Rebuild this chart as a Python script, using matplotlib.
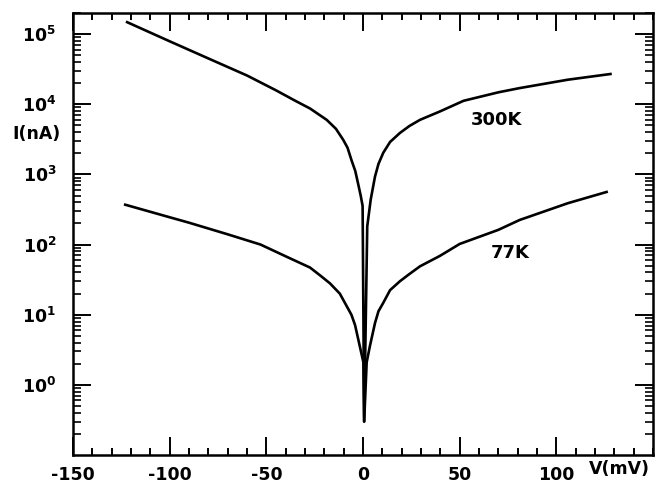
import numpy as np
import matplotlib
matplotlib.use("Agg")
import matplotlib.pyplot as plt
from matplotlib.ticker import FixedLocator, MultipleLocator, LogFormatterMathtext, NullFormatter

# I-V curves (V in mV, I in nA)
v_300 = [-122, -100, -80, -60, -45, -35, -27.4, -18.8, -14, -10.2, -8, -5.9, -4, -2.4,
         -1.2, -0.2, 0.6, 2.2, 4, 6.2, 8, 10.5, 14, 19.1, 24, 29.5, 39.8, 52, 70, 81,
         106, 128]
i_300 = [148000, 79000, 45000, 25700, 15800, 11200, 8700, 6000, 4470, 3100, 2400, 1580,
         1120, 710, 500, 355, 0.3, 182, 440, 930, 1410, 2040, 2900, 3900, 4900, 6000,
         7900, 11200, 14800, 17000, 22400, 27000]

v_77 = [-123, -100, -90, -70, -53, -40, -27.4, -22, -17.1, -12, -8.4, -6, -4.1, -1.6,
        0.2, 0.6, 1.9, 3.6, 6.2, 8, 10.5, 14, 19.1, 24, 29.5, 39.8, 50, 70, 81, 106, 126]
i_77 = [370, 245, 205, 140, 100, 68, 47, 36, 28, 20, 13.2, 10, 7.1, 3.5,
        2.1, 0.3, 2.1, 3.6, 7.6, 11.2, 14.8, 22.4, 30, 38, 49, 69, 102, 162, 224, 389, 562]

curve_labels = ["300K", "77K"]
label_pos = [(69, 6000), (76, 77)]

x_ticks = [-150, -100, -50, 0, 50, 100]
x_ticklabels = ["-150", "-100", "-50", "0", "50", "100"]
decades = [0.1, 1, 10, 100, 1000, 1e4, 1e5]

plt.rcParams['axes.unicode_minus'] = False
plt.rcParams['font.family'] = 'DejaVu Sans'

fig = plt.figure(figsize=(6.58, 4.84), dpi=100)
ax = fig.add_axes([73 / 658, 1 - 455 / 484, (653 - 73) / 658, (455 - 13) / 484])

ax.plot(v_300, i_300, color='black', lw=1.9)
ax.plot(v_77, i_77, color='black', lw=1.9)

ax.set_yscale('log')
ax.set_xlim(-150, 150)

ax.xaxis.set_major_locator(FixedLocator(x_ticks))
ax.set_xticklabels(x_ticklabels)
ax.xaxis.set_minor_locator(MultipleLocator(10))

minor_y = np.outer(decades, np.arange(2, 10)).ravel()
ax.set_yticks(decades[1:])
ax.set_yticks(minor_y, minor=True)
ax.yaxis.set_major_formatter(LogFormatterMathtext())
ax.yaxis.set_minor_formatter(NullFormatter())
ax.set_ylim(0.1, 2e5)

ax.tick_params(which='both', direction='in', top=True, right=True, width=1.4, colors='black')
ax.tick_params(which='major', length=13)
ax.tick_params(which='minor', length=5)
ax.yaxis.set_tick_params(which='minor', left=True, right=True, length=6, width=1.2)
ax.tick_params(axis='x', which='major', pad=8, labelsize=12.5)
ax.tick_params(axis='y', which='major', pad=12, labelsize=12.5)
for lab in ax.get_xticklabels() + ax.get_yticklabels():
    lab.set_fontweight('bold')

for sp in ax.spines.values():
    sp.set_linewidth(1.8)

for txt, (x, y) in zip(curve_labels, label_pos):
    ax.text(x, y, txt, fontsize=13, fontweight='bold', ha='center', va='center')

fig.text(36 / 658, 1 - 134 / 484, "I(nA)", fontsize=12.5, fontweight='bold',
         ha='center', va='center')
fig.text(619 / 658, 1 - 469 / 484, "V(mV)", fontsize=12.5, fontweight='bold',
         ha='center', va='center')

fig.savefig("out.png", dpi=100)
